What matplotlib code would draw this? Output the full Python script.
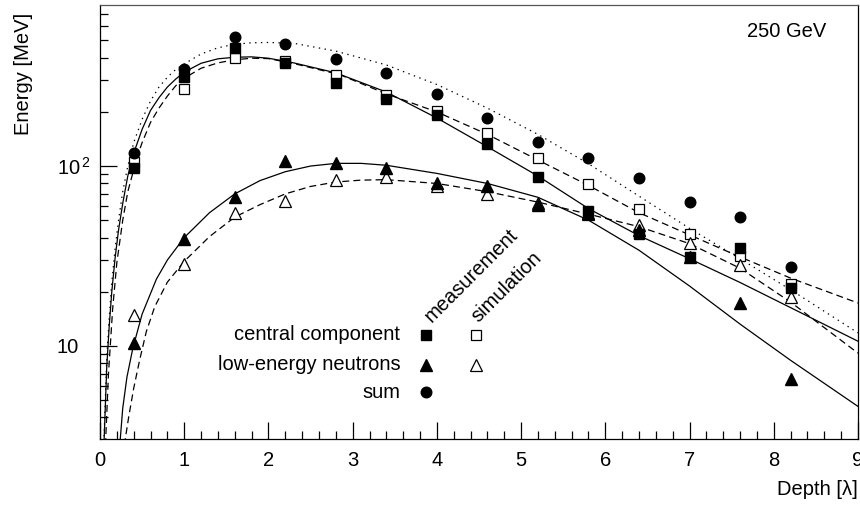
import matplotlib
matplotlib.use("Agg")
import matplotlib.pyplot as plt
from matplotlib.ticker import FixedLocator, NullFormatter, LogLocator, MultipleLocator, FixedFormatter

plt.rcParams['font.family'] = ['Liberation Sans', 'DejaVu Sans']
plt.rcParams['mathtext.fontset'] = 'custom'
plt.rcParams['mathtext.rm'] = 'Liberation Sans'
plt.rcParams['mathtext.it'] = 'Liberation Sans'
plt.rcParams['lines.scale_dashes'] = False

# ---------------- data ----------------
depth = [0.4, 1.0, 1.6, 2.2, 2.8, 3.4, 4.0, 4.6, 5.2, 5.8, 6.4, 7.0, 7.6, 8.2]

central_meas = [98, 312, 452, 373, 289, 236, 192, 133, 87, 56, 42, 31, 35, 21]
central_sim = [105, 268, 398, 383, 320, 248, 202, 152, 111, 79, 58, 42, 31.5, 22]
neutron_meas = [10.3, 39.3, 67, 107, 104, 97.5, 80, 77, 60.7, 55, 44, 31, 17.3, 6.5]
neutron_sim = [14.9, 28.5, 55, 64, 83.6, 87, 77, 70, 62.5, 54, 47, 37.3, 28.2, 18.7]
sum_meas = [118, 346, 521, 476, 393, 329, 252, 185, 136, 111, 86, 63, 52, 27.5]

# fitted curves
central_meas_fit_x = [0.045, 0.05, 0.08, 0.11, 0.14, 0.18, 0.22, 0.27, 0.33, 0.4, 0.5, 0.6, 0.7, 0.8, 0.9,
                      1.0, 1.2, 1.4, 1.6, 1.8, 2.0, 2.3, 2.8, 3.4, 4.0, 4.6, 5.2, 5.8, 6.4, 7.0, 7.6, 8.2, 9.0]
central_meas_fit_y = [2.8, 3.1, 7.6, 13, 20, 31, 44, 62, 88, 118, 160, 204, 240, 275, 305,
                      333, 373, 395, 403, 405, 398, 375, 330, 258, 185, 128, 88, 58, 41, 30.5, 22.5, 16.3, 10.6]

central_sim_fit_x = [0.065, 0.07, 0.1, 0.15, 0.2, 0.27, 0.33, 0.44, 0.5, 0.6, 0.7, 0.8, 0.9, 1.0, 1.2,
                     1.4, 1.6, 1.8, 2.0, 2.3, 2.85, 3.4, 4.0, 4.6, 5.2, 5.8, 6.4, 7.0, 7.6, 8.2, 9.0]
central_sim_fit_y = [2.8, 3.2, 6.9, 16, 29, 50, 72, 112, 135, 175, 210, 245, 280, 308, 350,
                     375, 390, 398, 396, 372, 322, 252, 200, 150, 108, 78, 55, 41.4, 31.2, 23.8, 17.3]

sum_fit_x = [0.045, 0.05, 0.08, 0.11, 0.14, 0.18, 0.22, 0.27, 0.33, 0.4, 0.5, 0.6, 0.7, 0.8, 0.9,
             1.0, 1.2, 1.4, 1.6, 1.8, 2.0, 2.3, 2.8, 3.4, 4.0, 4.6, 5.2, 5.8, 6.4, 7.0, 7.6, 8.2, 9.0]
sum_fit_y = [2.7, 3.3, 8.5, 14.5, 22.5, 35, 50, 72, 100, 135, 182, 230, 275, 312, 345,
             370, 420, 455, 476, 485, 487, 482, 436, 365, 284, 210, 150, 103, 68, 45, 30.5, 20.5, 11.8]

neutron_meas_fit_x = [0.23, 0.24, 0.27, 0.32, 0.39, 0.5, 0.67, 0.8, 1.0, 1.3, 1.6, 1.9, 2.2, 2.5, 2.8,
                      3.1, 3.4, 4.0, 4.6, 5.2, 5.8, 6.4, 7.0, 7.6, 8.2, 9.0]
neutron_meas_fit_y = [2.7, 3.0, 4.5, 6.7, 9.7, 15, 23.5, 30, 40, 55, 70, 83, 93, 100, 103.5,
                      103.5, 101, 91, 80, 67, 50, 34, 21.5, 13.2, 8.3, 4.6]

neutron_sim_fit_x = [0.29, 0.3, 0.34, 0.4, 0.47, 0.55, 0.65, 0.8, 1.0, 1.3, 1.6, 1.9, 2.2, 2.5, 2.8,
                     3.1, 3.4, 4.0, 4.6, 5.2, 5.8, 6.4, 7.0, 7.6, 8.2, 9.0]
neutron_sim_fit_y = [2.8, 3.03, 4.0, 5.8, 8.3, 12, 16.5, 22.6, 29.5, 40.5, 52, 61, 70, 77, 81.5,
                     83.5, 84, 80, 72, 63, 54, 46, 37, 27, 17.5, 9.1]

legend_rows = ["central component", "low-energy neutrons", "sum"]
legend_cols = ["measurement", "simulation"]

# ---------------- figure ----------------
fig = plt.figure(figsize=(8.6, 5.08), dpi=100)
ax = fig.add_axes([100 / 860, 69 / 508, 758 / 860, 434 / 508])
ax.set_yscale('log')
ax.set_xlim(0, 9)
ax.set_ylim(3.03, 787)

FS = 14.5
lw = 0.9
dash = (0, (5, 3))
dot = (0, (1, 3.2))

ax.plot(central_meas_fit_x, central_meas_fit_y, color='black', lw=lw, ls='-')
ax.plot(central_sim_fit_x, central_sim_fit_y, color='black', lw=lw, ls=dash)
ax.plot(sum_fit_x, sum_fit_y, color='black', lw=lw, ls=dot)
ax.plot(neutron_meas_fit_x, neutron_meas_fit_y, color='black', lw=lw, ls='-')
ax.plot(neutron_sim_fit_x, neutron_sim_fit_y, color='black', lw=lw, ls=dash)

ms = 7.6
ax.plot(depth, central_sim, ls='none', marker='s', ms=ms, mfc='white', mec='black', mew=0.9)
ax.plot(depth, neutron_sim, ls='none', marker='^', ms=ms + 0.6, mfc='white', mec='black', mew=0.9)
ax.plot(depth, central_meas, ls='none', marker='s', ms=ms, color='black')
ax.plot(depth, neutron_meas, ls='none', marker='^', ms=ms + 0.6, color='black')
ax.plot(depth, sum_meas, ls='none', marker='o', ms=ms, color='black')

# ---------------- axes styling ----------------
for s in ax.spines.values():
    s.set_linewidth(0.9)
ax.spines['top'].set_color('#555555')

ax.xaxis.set_major_locator(MultipleLocator(1))
ax.xaxis.set_minor_locator(MultipleLocator(0.2))
ax.yaxis.set_major_locator(FixedLocator([10, 100]))
ax.yaxis.set_major_formatter(FixedFormatter(['10', r'10$^{\,2}$']))
ax.yaxis.set_minor_locator(LogLocator(base=10, subs=[2, 3, 4, 5, 6, 7, 8, 9]))
ax.yaxis.set_minor_formatter(NullFormatter())

ax.tick_params(axis='both', which='both', direction='in', top=False, right=False,
               width=0.9, color='black')
ax.tick_params(axis='x', which='major', length=12, pad=9, labelsize=FS)
ax.tick_params(axis='x', which='minor', length=5.8)
ax.tick_params(axis='y', which='major', length=12, pad=31, labelsize=FS)
ax.tick_params(axis='y', which='minor', length=5.8)
for lab in ax.get_yticklabels():
    lab.set_horizontalalignment('left')

ax.set_xlabel('Depth [λ]', fontsize=FS, loc='right')
ax.xaxis.set_label_coords(1.0, -0.095)
ax.set_ylabel('Energy [MeV]', fontsize=FS, loc='top')
ax.yaxis.set_label_coords(-0.088, 0.982)

ax.text(0.906, 0.938, '250 GeV', transform=ax.transAxes, fontsize=FS,
        ha='center', va='center')

# ---------------- legend (hand-made, as in the original) ----------------
row_y = [0.240, 0.171, 0.108]
col_x = [0.430, 0.496]
for label, y in zip(legend_rows, row_y):
    ax.text(0.396, y, label, transform=ax.transAxes, fontsize=FS, ha='right', va='center')
ax.plot([col_x[0]], [row_y[0]], transform=ax.transAxes, marker='s', ms=ms, color='black', ls='none')
ax.plot([col_x[1]], [row_y[0]], transform=ax.transAxes, marker='s', ms=ms, mfc='white', mec='black', mew=0.9, ls='none')
ax.plot([col_x[0]], [row_y[1]], transform=ax.transAxes, marker='^', ms=ms + 0.6, color='black', ls='none')
ax.plot([col_x[1]], [row_y[1]], transform=ax.transAxes, marker='^', ms=ms + 0.6, mfc='white', mec='black', mew=0.9, ls='none')
ax.plot([col_x[0]], [row_y[2]], transform=ax.transAxes, marker='o', ms=ms, color='black', ls='none')

head_x = [0.437, 0.499]
for label, x in zip(legend_cols, head_x):
    ax.text(x, 0.268, label, transform=ax.transAxes, fontsize=FS, rotation=45,
            rotation_mode='anchor', ha='left', va='baseline')

fig.savefig('out.png', dpi=100)
